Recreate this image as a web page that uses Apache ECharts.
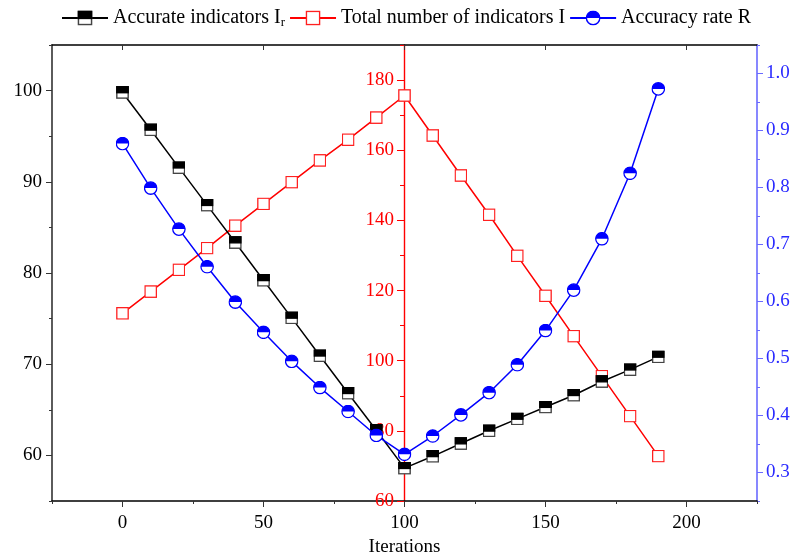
<!DOCTYPE html>
<html>
<head>
<meta charset="utf-8">
<script src="https://cdn.jsdelivr.net/npm/echarts@6/dist/echarts.min.js"></script>
<style>
  html, body { margin: 0; padding: 0; background: #fff; }
  #chart { width: 793px; height: 554px; }
</style>
</head>
<body>
<div id="chart"></div>
<script>
// Iteration steps
const iterations = [0, 10, 20, 30, 40, 50, 60, 70, 80, 90, 100, 110, 120, 130, 140, 150, 160, 170, 180, 190];
// Accurate indicators Ir (left axis)
const accurate = [99.8, 95.7, 91.55, 87.44, 83.34, 79.2, 75.08, 70.93, 66.82, 62.75, 58.6, 59.9, 61.3, 62.7, 64.0, 65.3, 66.6, 68.1, 69.4, 70.8];
// Total number of indicators I (middle axis)
const total = [113.5, 119.7, 125.9, 132.1, 138.5, 144.7, 150.9, 157.1, 163.0, 169.3, 175.6, 164.2, 152.8, 141.6, 129.9, 118.5, 107.0, 95.6, 84.2, 72.8];
// Accuracy rate R (right axis)
const rate = [0.877, 0.799, 0.727, 0.661, 0.599, 0.546, 0.495, 0.449, 0.407, 0.365, 0.332, 0.364, 0.401, 0.440, 0.489, 0.549, 0.620, 0.710, 0.825, 0.973];

// Tick labels
const xTicks = [0, 50, 100, 150, 200];
const leftTicks = [60, 70, 80, 90, 100];
const midTicks = [60, 80, 100, 120, 140, 160, 180];
const rightTicks = [0.3, 0.4, 0.5, 0.6, 0.7, 0.8, 0.9, 1.0];

const FONT = "'Liberation Serif', 'Times New Roman', serif";
const FS = 19;

function svgUrl(svg) {
  return 'image://data:image/svg+xml;charset=utf-8,' + encodeURIComponent(svg);
}
const halfSquare = svgUrl(
  '<svg xmlns="http://www.w3.org/2000/svg" width="24" height="24" viewBox="0 0 24 24">' +
  '<rect x="1.5" y="1.5" width="21" height="21" fill="#fff" stroke="#444" stroke-width="2.6"/>' +
  '<rect x="1.5" y="1.5" width="21" height="11" fill="#000" stroke="#000" stroke-width="2.6"/>' +
  '</svg>');
const openSquare = svgUrl(
  '<svg xmlns="http://www.w3.org/2000/svg" width="24" height="24" viewBox="0 0 24 24">' +
  '<rect x="1.5" y="1.5" width="21" height="21" fill="#fff" stroke="#ff2020" stroke-width="2.4"/>' +
  '</svg>');
const halfCircle = svgUrl(
  '<svg xmlns="http://www.w3.org/2000/svg" width="26" height="26" viewBox="0 0 26 26">' +
  '<circle cx="13" cy="13" r="11.5" fill="#fff" stroke="#0000ff" stroke-width="2.4"/>' +
  '<path d="M1.5,13 A11.5,11.5 0 0 1 24.5,13 Z" fill="#0000ff"/>' +
  '</svg>');

function pairs(ys) { return iterations.map((x, i) => [x, ys[i]]); }
function pick(list) { return v => (list.some(t => Math.abs(t - v) < 1e-6) ? String(v) : ''); }

const chart = echarts.init(document.getElementById('chart'), null, { renderer: 'canvas' });

const names = ['Accurate indicators Ir', 'Total number of indicators I', 'Accuracy rate R'];

chart.setOption({
  animation: false,
  backgroundColor: '#fff',
  textStyle: { fontFamily: FONT },
  legend: {
    data: names,
    left: 56,
    top: 3,
    itemWidth: 46,
    itemHeight: 19,
    itemGap: 4,
    textStyle: {
      fontFamily: FONT, fontSize: 20, color: '#000',
      rich: { sub: { fontFamily: FONT, fontSize: 13, padding: [10, 0, 0, 0], color: '#000' } }
    },
    formatter: n => (n === names[0] ? 'Accurate indicators I{sub|r}' : n)
  },
  grid: { left: 52, right: 36, top: 45, bottom: 53, containLabel: false, outerBoundsMode: 'none' },
  xAxis: [
    {
      type: 'value', position: 'bottom', min: -25, max: 225, interval: 25,
      name: 'Iterations', nameLocation: 'middle', nameGap: 35,
      nameTextStyle: { fontFamily: FONT, fontSize: FS, color: '#000' },
      axisLine: { show: true, onZero: false, lineStyle: { color: '#000', width: 1.6 } },
      axisTick: { show: true, length: 3, lineStyle: { color: '#333', width: 1 } },
      axisLabel: { fontFamily: FONT, fontSize: FS, color: '#000', margin: 13, formatter: pick(xTicks) },
      splitLine: { show: false }
    },
    {
      type: 'value', position: 'bottom', min: -25, max: 225,
      axisLine: { show: false, onZero: false },
      axisTick: { show: true, length: 6, customValues: xTicks, lineStyle: { color: '#333', width: 1 } },
      axisLabel: { show: false },
      splitLine: { show: false }
    },
    {
      type: 'value', position: 'top', min: -25, max: 225,
      axisLine: { show: true, onZero: false, lineStyle: { color: '#000', width: 1.6 } },
      axisTick: { show: true, inside: true, length: 5, customValues: xTicks, lineStyle: { color: '#333', width: 1 } },
      axisLabel: { show: false },
      splitLine: { show: false }
    }
  ],
  yAxis: [
    {
      type: 'value', position: 'left', min: 55, max: 105, interval: 5,
      axisLine: { show: true, onZero: false, lineStyle: { color: '#333', width: 1.6 } },
      axisTick: { show: true, length: 3, lineStyle: { color: '#333', width: 1 } },
      axisLabel: { fontFamily: FONT, fontSize: FS, color: '#000', margin: 10, formatter: pick(leftTicks) },
      splitLine: { show: false }
    },
    {
      type: 'value', position: 'left', offset: -352, min: 60, max: 190, interval: 10,
      axisLine: { show: true, onZero: false, lineStyle: { color: '#ff0000', width: 1.4 } },
      axisTick: { show: true, length: 4, lineStyle: { color: '#ff0000', width: 1 } },
      axisLabel: { fontFamily: FONT, fontSize: FS, color: '#ff0000', margin: 10, formatter: pick(midTicks) },
      splitLine: { show: false }
    },
    {
      type: 'value', position: 'right', min: 0.25, max: 1.05, interval: 0.05,
      axisLine: { show: true, onZero: false, lineStyle: { color: '#6a6aff', width: 1.6 } },
      axisTick: { show: true, length: 3, lineStyle: { color: '#6a6aff', width: 1 } },
      axisLabel: {
        fontFamily: FONT, fontSize: FS, color: '#2a2aff', margin: 9,
        formatter: v => (rightTicks.some(t => Math.abs(t - v) < 1e-6) ? v.toFixed(1) : '')
      },
      splitLine: { show: false }
    },
    // longer major ticks
    {
      type: 'value', position: 'left', min: 55, max: 105,
      axisLine: { show: false, onZero: false },
      axisTick: { show: true, length: 6, customValues: leftTicks, lineStyle: { color: '#333', width: 1 } },
      axisLabel: { show: false }, splitLine: { show: false }
    },
    {
      type: 'value', position: 'left', offset: -352, min: 60, max: 190,
      axisLine: { show: false, onZero: false },
      axisTick: { show: true, length: 7, customValues: midTicks, lineStyle: { color: '#ff0000', width: 1 } },
      axisLabel: { show: false }, splitLine: { show: false }
    },
    {
      type: 'value', position: 'right', min: 0.25, max: 1.05,
      axisLine: { show: false, onZero: false },
      axisTick: { show: true, length: 6, customValues: rightTicks, lineStyle: { color: '#6a6aff', width: 1 } },
      axisLabel: { show: false }, splitLine: { show: false }
    }
  ],
  series: [
    {
      name: names[0], type: 'line', xAxisIndex: 0, yAxisIndex: 0,
      data: pairs(accurate), symbol: halfSquare, symbolSize: 13,
      lineStyle: { color: '#000', width: 1.5 }, itemStyle: { color: '#000' }, z: 3
    },
    {
      name: names[1], type: 'line', xAxisIndex: 0, yAxisIndex: 1,
      data: pairs(total), symbol: openSquare, symbolSize: 13,
      lineStyle: { color: '#ff0000', width: 1.5 }, itemStyle: { color: '#ff0000' }, z: 2
    },
    {
      name: names[2], type: 'line', xAxisIndex: 0, yAxisIndex: 2,
      data: pairs(rate), symbol: halfCircle, symbolSize: 14,
      lineStyle: { color: '#0000ff', width: 1.5 }, itemStyle: { color: '#0000ff' }, z: 4
    }
  ]
});
</script>
</body>
</html>
